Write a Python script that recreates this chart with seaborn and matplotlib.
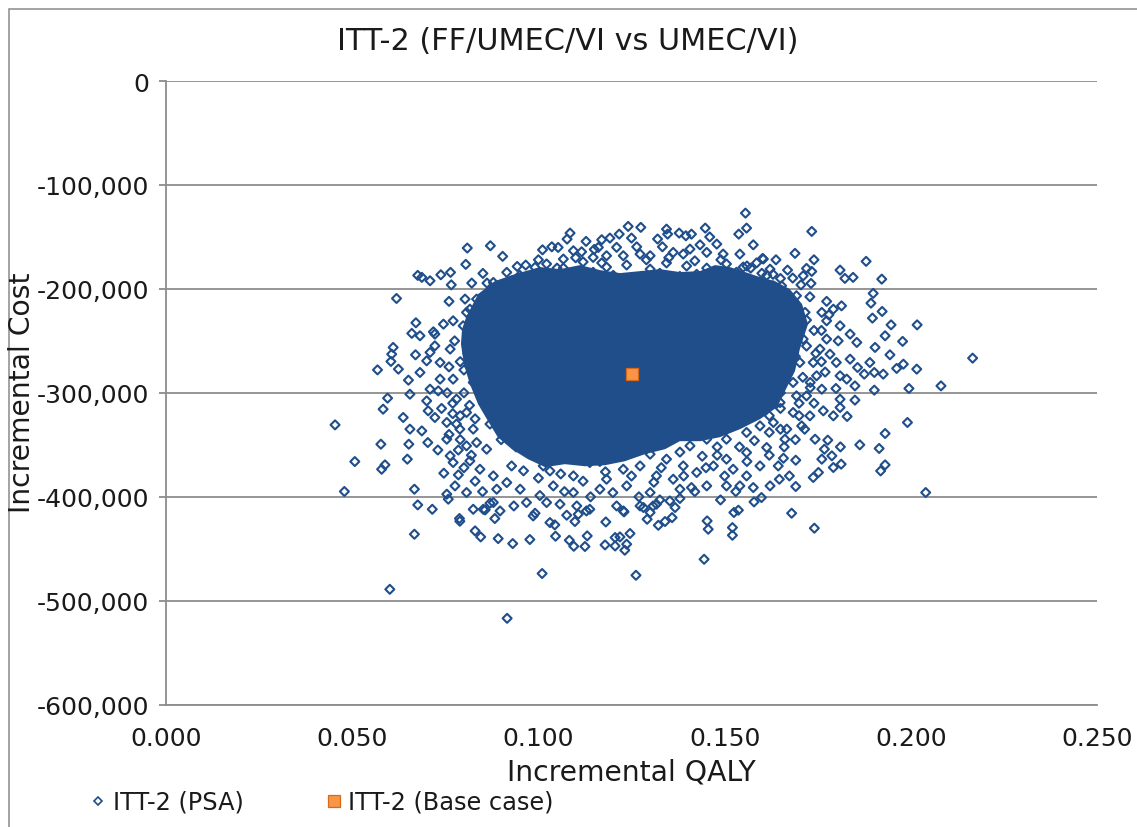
import numpy as np
import pandas as pd
import matplotlib
matplotlib.use("Agg")
import matplotlib.pyplot as plt
import seaborn as sns
from matplotlib.lines import Line2D
from matplotlib.patches import Rectangle
from matplotlib.ticker import FuncFormatter, MultipleLocator

# ---------------------------------------------------------------
# PSA simulations: incremental QALY and incremental cost (thousands)
# ---------------------------------------------------------------
psa_qaly = [
    # upper-left of the cloud
    0.0809, 0.0871, 0.0805, 0.0676, 0.0687, 0.0709, 0.0738, 0.0764, 0.0766, 0.0851,
    0.0619, 0.0760, 0.0671, 0.0660, 0.0904, 0.0943, 0.0966, 0.1011, 0.0821, 0.0862,
    0.0803, 0.0718, 0.0745, 0.0771, 0.0834, 0.0879, 0.0915, 0.0991,
    0.0816, 0.0861, 0.0888, 0.0933, 0.0959, 0.0995, 0.0951, 0.0915, 0.0843, 0.0798,
    0.1022, 0.0807,
    # upper-centre
    0.1556, 0.1559, 0.1538, 0.1577, 0.1448, 0.1275, 0.1241, 0.1344, 0.1347, 0.1378,
    0.1411, 0.1396, 0.1217, 0.1085, 0.1077, 0.1128, 0.1170, 0.1192, 0.1036, 0.1053,
    0.1116, 0.1161, 0.1250, 0.1264, 0.1333, 0.1434, 0.1479, 0.1362, 0.1389, 0.1407,
    0.1452, 0.1496, 0.1541, 0.1602, 0.1228, 0.1273, 0.1300, 0.1067, 0.1094, 0.1147,
    0.1183,
    0.1022, 0.1067, 0.1120, 0.1183, 0.1237, 0.1300, 0.1344, 0.1398, 0.1452, 0.1505,
    0.1550, 0.1586,
    0.1040, 0.1094, 0.1147, 0.1201, 0.1264, 0.1326, 0.1380, 0.1425, 0.1470, 0.1532,
    0.1613,
    0.0900, 0.0980, 0.1050, 0.0870, 0.0930, 0.1600, 0.1650, 0.1560, 0.1630,
    0.1000, 0.1100, 0.1170, 0.1290, 0.1350, 0.1420, 0.1490, 0.1570, 0.1630, 0.1210,
    0.1320, 0.1460, 0.1150, 0.0950,
    # upper-right
    0.1734, 0.1689, 0.1638, 0.1604, 0.1740, 0.1669, 0.1720, 0.1734, 0.1683, 0.1711,
    0.1732, 0.1705, 0.1810, 0.1823, 0.1845, 0.1880, 0.1922, 0.1899, 0.1893, 0.1923,
    0.1897, 0.1947, 0.2017, 0.1729, 0.1774, 0.1814, 0.1792, 0.1761, 0.1716, 0.1684,
    0.1653, 0.1622, 0.1774, 0.1810,
    0.1613, 0.1649, 0.1631, 0.1675, 0.1613, 0.1693, 0.1658,
    # left side
    0.0454, 0.0507, 0.0479, 0.0568, 0.0595, 0.0583, 0.0577, 0.0579, 0.0588, 0.0667,
    0.0676, 0.0715, 0.0648, 0.0652, 0.0637, 0.0655, 0.0687, 0.0703, 0.0655, 0.0651,
    0.0670, 0.0606, 0.0604, 0.0624, 0.0610, 0.0746, 0.0785, 0.0788, 0.0825, 0.0852,
    0.0879, 0.0776, 0.0807, 0.0754, 0.0700, 0.0704, 0.0722, 0.0754, 0.0754, 0.0709,
    0.0682, 0.0700, 0.0722, 0.0722, 0.0915, 0.0928, 0.0897, 0.0986, 0.0816, 0.0771,
    0.0807, 0.0763, 0.0731,
    0.0682, 0.0709, 0.0736, 0.0763, 0.0771, 0.0736, 0.0780, 0.0807, 0.0789, 0.0825,
    0.0843, 0.0879, 0.0888, 0.0951, 0.0968, 0.1004, 0.0861, 0.0834,
    0.0810, 0.0800, 0.0825, 0.0800, 0.0815, 0.0790, 0.0830, 0.0790, 0.0820, 0.0760,
    0.0770, 0.0755, 0.0790, 0.0775, 0.0810, 0.0840, 0.0830,
    0.0770, 0.0780, 0.0760, 0.0740, 0.0785, 0.0800, 0.0830, 0.0850, 0.0730,
    # lower-centre
    0.1022, 0.1058, 0.1103, 0.1138, 0.1228, 0.1273, 0.1317, 0.1411, 0.1452, 0.1541,
    0.1577, 0.1613, 0.1559, 0.1505, 0.1389, 0.1317, 0.1183, 0.1094, 0.1031, 0.1237,
    0.1049, 0.1138, 0.1228, 0.1273, 0.1344, 0.1362, 0.1425, 0.1470, 0.1523, 0.1559,
    0.1595, 0.1452, 0.1505, 0.1559, 0.1595, 0.1407, 0.1094, 0.1165, 0.1300, 0.1380,
    0.1505, 0.1040, 0.1112, 0.1013,
    0.1480, 0.1540, 0.1580, 0.1620, 0.1620, 0.1650, 0.1440, 0.1380, 0.1300, 0.1200,
    0.1165, 0.1080, 0.0990, 0.0940, 0.0900, 0.0870,
    0.1060, 0.1120, 0.1180, 0.1250, 0.1310, 0.1390, 0.1450, 0.1500, 0.1560, 0.1200,
    0.1140, 0.1270, 0.1330, 0.1000, 0.0960, 0.1070, 0.1420, 0.1480, 0.1620, 0.1530,
    # right side
    0.2166, 0.2081, 0.2016, 0.1995, 0.1980, 0.1978, 0.1931, 0.1944, 0.1902, 0.1991,
    0.1931, 0.1915, 0.1931, 0.1919, 0.2040, 0.1863, 0.1811, 0.1850, 0.1810, 0.1829,
    0.1792, 0.1765, 0.1777, 0.1743, 0.1768, 0.1761, 0.1788, 0.1813, 0.1792, 0.1752,
    0.1738, 0.1691, 0.1658, 0.1644, 0.1674, 0.1647, 0.1691, 0.1622, 0.1902, 0.1875,
    0.1926, 0.1962, 0.1904, 0.1890, 0.1857, 0.1837, 0.1850, 0.1799, 0.1810, 0.1828,
    0.1761, 0.1747, 0.1729, 0.1707, 0.1810, 0.1800, 0.1783, 0.1805, 0.1837, 0.1855,
    0.1774, 0.1662,
    0.1622, 0.1667, 0.1702, 0.1649, 0.1684, 0.1720, 0.1649, 0.1684, 0.1631, 0.1667,
    0.1738, 0.1756, 0.1711, 0.1693,
    0.1700, 0.1720, 0.1740, 0.1710, 0.1730, 0.1760, 0.1700, 0.1740, 0.1715, 0.1690,
    0.1690, 0.1720, 0.1650, 0.1690,
    0.1745, 0.1760, 0.1730, 0.1700, 0.1650, 0.1770, 0.1780, 0.1660,
    # bottom tail
    0.0916, 0.1010, 0.1262, 0.0789, 0.0830, 0.0845, 0.0892, 0.0931, 0.0977, 0.1046,
    0.1083, 0.1095, 0.1125, 0.1131, 0.1179, 0.1206, 0.1206, 0.1219, 0.1232, 0.1237,
    0.1246, 0.1181, 0.1031, 0.1044, 0.1076, 0.1098, 0.0991, 0.0934, 0.0883, 0.0870,
    0.0857, 0.0758, 0.1230, 0.1292, 0.1300, 0.1282, 0.1129, 0.1107, 0.1210,
    0.1445, 0.1741, 0.1680, 0.1453, 0.1456, 0.1521, 0.1521, 0.1525, 0.1537, 0.1489,
    0.1579, 0.1599, 0.1322, 0.1340, 0.1359, 0.1367, 0.1353, 0.1380, 0.1326, 0.1308,
    0.0601, 0.0667,
]

psa_cost_k = [
    -160.7, -158.5, -176.4, -187.0, -188.9, -192.2, -186.4, -184.1, -196.1, -185.1,
    -209.2, -212.0, -232.6, -242.8, -168.7, -178.4, -177.1, -162.4, -194.4, -194.4,
    -209.8, -241.3, -233.9, -230.7, -209.8, -193.8, -184.1, -179.3,
    -219.5, -216.3, -229.1, -206.6, -200.2, -193.8, -222.6, -235.5, -238.7, -235.5,
    -184.1, -222.6,
    -127.1, -141.5, -147.3, -157.6, -141.5, -140.8, -139.9, -142.5, -147.3, -146.3,
    -147.3, -148.9, -147.3, -146.3, -152.1, -154.3, -152.7, -151.1, -159.5, -160.1,
    -164.3, -160.1, -151.1, -159.5, -159.5, -157.6, -156.9, -164.9, -166.5, -161.7,
    -164.9, -166.5, -166.5, -170.7, -168.1, -166.5, -168.1, -171.3, -163.3, -169.7,
    -168.1,
    -176.0, -180.0, -174.0, -179.0, -177.0, -181.0, -175.0, -178.0, -180.0, -176.0,
    -179.0, -175.0,
    -186.0, -189.0, -184.0, -187.0, -190.0, -185.0, -188.0, -186.0, -189.0, -184.0,
    -187.0,
    -200.0, -190.0, -180.0, -205.0, -192.0, -185.0, -190.0, -178.0, -197.0,
    -172.0, -170.0, -175.0, -172.0, -170.0, -173.0, -172.0, -180.0, -186.0, -160.0,
    -152.0, -150.0, -162.0, -187.0,
    -144.7, -165.8, -172.0, -171.3, -172.0, -181.9, -180.3, -183.2, -189.6, -187.4,
    -194.7, -196.1, -181.9, -189.9, -188.9, -173.5, -190.6, -204.3, -213.7, -221.7,
    -228.1, -234.6, -234.6, -207.6, -212.0, -216.3, -219.5, -222.6, -222.6, -216.3,
    -197.0, -181.0, -230.7, -235.5,
    -206.6, -213.0, -225.9, -232.3, -235.5, -206.6, -203.4,
    -330.8, -366.1, -394.9, -277.9, -305.1, -315.7, -349.4, -373.5, -369.3, -392.7,
    -407.8, -412.0, -363.8, -349.4, -323.7, -334.9, -336.6, -347.8, -301.3, -287.8,
    -263.4, -262.8, -269.8, -277.2, -256.3, -377.3, -378.9, -420.9, -412.0, -412.0,
    -405.5, -389.5, -395.9, -397.5, -307.7, -317.3, -323.7, -328.5, -344.6, -296.5,
    -280.4, -269.2, -254.8, -243.5, -386.3, -370.3, -413.6, -418.4, -365.5, -367.0,
    -351.0, -360.6, -298.1,
    -245.1, -261.1, -270.8, -257.9, -286.8, -286.8, -306.1, -318.9, -334.9, -334.9,
    -373.5, -379.9, -392.7, -392.7, -405.5, -398.8, -354.2, -347.8,
    -262.0, -278.0, -290.0, -300.0, -312.0, -322.0, -325.0, -345.0, -360.0, -340.0,
    -320.0, -300.0, -270.0, -250.0, -248.0, -250.0, -228.0,
    -310.0, -330.0, -275.0, -315.0, -355.0, -372.0, -385.0, -395.0, -355.0,
    -405.5, -407.1, -408.8, -412.0, -413.6, -408.8, -407.1, -391.1, -389.5, -389.5,
    -391.1, -352.6, -357.4, -363.8, -370.3, -379.9, -383.1, -379.9, -375.1, -389.5,
    -363.8, -367.0, -373.5, -370.3, -363.8, -383.1, -376.6, -370.3, -373.5, -379.9,
    -370.3, -344.6, -344.6, -338.1, -331.8, -351.0, -395.9, -392.7, -395.9, -392.7,
    -389.5, -389.5, -360.6, -370.3,
    -352.0, -352.0, -346.0, -338.0, -322.0, -315.0, -361.0, -357.0, -359.0, -361.0,
    -366.0, -362.0, -358.0, -352.0, -345.0, -330.0,
    -378.0, -385.0, -376.0, -380.0, -386.0, -380.0, -372.0, -380.0, -366.0, -396.0,
    -400.0, -400.0, -372.0, -382.0, -375.0, -395.0, -395.0, -360.0, -360.0, -395.0,
    -266.6, -293.3, -277.2, -295.8, -272.4, -250.5, -245.1, -263.4, -297.4, -328.5,
    -339.1, -353.5, -369.3, -375.1, -395.9, -350.0, -352.0, -307.0, -306.1, -322.7,
    -322.1, -317.3, -345.5, -344.6, -354.2, -363.8, -360.6, -368.6, -371.8, -376.6,
    -381.4, -364.8, -362.9, -370.3, -379.9, -383.1, -390.1, -389.5, -280.4, -282.0,
    -282.0, -276.5, -256.3, -270.8, -275.6, -267.6, -293.3, -295.8, -283.6, -286.8,
    -296.5, -283.6, -322.1, -331.8, -314.1, -270.8, -262.8, -250.0, -243.5, -251.5,
    -248.3, -344.6,
    -248.3, -257.9, -270.8, -280.4, -290.0, -302.9, -309.3, -318.9, -328.5, -334.9,
    -270.8, -257.9, -248.3, -302.9,
    -240.0, -255.0, -240.0, -285.0, -295.0, -270.0, -310.0, -310.0, -335.0, -345.0,
    -225.0, -230.0, -300.0, -265.0,
    -262.0, -240.0, -290.0, -322.0, -335.0, -280.0, -225.0, -352.0,
    -516.9, -473.8, -475.5, -423.5, -432.8, -438.6, -440.2, -445.0, -441.1, -437.9,
    -441.8, -447.6, -447.8, -437.6, -446.3, -447.3, -439.2, -438.6, -451.4, -445.6,
    -435.3, -424.2, -424.8, -427.0, -417.7, -423.8, -415.8, -408.8, -420.9, -406.2,
    -412.6, -402.3, -414.5, -421.6, -415.1, -410.3, -413.6, -416.8, -408.8,
    -460.1, -430.2, -415.8, -423.2, -431.2, -429.6, -437.0, -415.1, -412.9, -403.0,
    -404.9, -400.7, -427.4, -423.8, -420.0, -410.3, -404.0, -401.6, -403.0, -408.8,
    -489.0, -436.0,
]

# Outline of the fully overplotted centre of the cloud
core_qaly = [0.0806, 0.0838, 0.0883, 0.0937, 0.1004, 0.1058, 0.1112, 0.1165, 0.1219,
             0.1273, 0.1326, 0.1380, 0.1434, 0.1474, 0.1514, 0.1555, 0.1595, 0.1635,
             0.1675, 0.1708, 0.1724, 0.1702, 0.1689, 0.1662, 0.1641, 0.1595, 0.1541,
             0.1487, 0.1434, 0.1380, 0.1340, 0.1286, 0.1232, 0.1179, 0.1125, 0.1071,
             0.1018, 0.0972, 0.0929, 0.0891, 0.0865, 0.0838, 0.0816, 0.0800, 0.0792,
             0.0795]
core_cost_k = [-227.2, -205.0, -192.5, -185.8, -179.0, -181.0, -177.1, -181.9, -184.8,
               -182.9, -181.0, -183.8, -182.9, -177.1, -179.0, -183.8, -188.7, -192.5,
               -200.2, -214.6, -233.9, -258.0, -279.1, -298.4, -313.8, -325.3, -335.0,
               -342.7, -346.5, -346.5, -354.2, -359.0, -365.8, -369.6, -370.6, -368.6,
               -371.5, -363.8, -354.2, -342.7, -327.3, -310.9, -291.6, -272.4, -253.1,
               -238.7]

# Deterministic base case
base_qaly = [0.125]
base_cost = [-282000]

title = "ITT-2 (FF/UMEC/VI vs UMEC/VI)"
x_label = "Incremental QALY"
y_label = "Incremental Cost"
series_labels = ["ITT-2 (PSA)", "ITT-2 (Base case)"]

# ---------------------------------------------------------------
BLUE = "#1F4E8A"
ORANGE = "#F79646"
ORANGE_EDGE = "#D9691A"
GREY = "#8C8C8C"
TEXT = "#1A1A1A"

sns.set_theme(style="white")
plt.rcParams["font.family"] = ["DejaVu Sans"]

W, H = 1137, 828
fig = plt.figure(figsize=(W / 100, H / 100), dpi=100)
fig.patch.set_facecolor("white")
ax = fig.add_axes([166 / W, 1 - 705.7 / H, (1097 - 166) / W, (705.7 - 82) / H])

psa = pd.DataFrame({"qaly": psa_qaly, "cost": np.array(psa_cost_k) * 1000})
base = pd.DataFrame({"qaly": base_qaly, "cost": base_cost})

ax.fill(core_qaly, np.array(core_cost_k) * 1000, color=BLUE, lw=0, zorder=2)
sns.scatterplot(data=psa, x="qaly", y="cost", ax=ax, marker="D", s=21,
                color=BLUE, facecolors="none", edgecolor=BLUE, linewidth=1.5,
                zorder=3, legend=False)
sns.scatterplot(data=base, x="qaly", y="cost", ax=ax, marker="s", s=75,
                color=ORANGE, edgecolor=ORANGE_EDGE, linewidth=0.9,
                zorder=4, legend=False)

ax.set_xlim(0, 0.25)
ax.set_ylim(-600000, 0)
ax.xaxis.set_major_locator(MultipleLocator(0.05))
ax.yaxis.set_major_locator(MultipleLocator(100000))
ax.xaxis.set_major_formatter(FuncFormatter(lambda v, p: f"{v:.3f}"))
ax.yaxis.set_major_formatter(FuncFormatter(lambda v, p: f"{v:,.0f}"))

ax.grid(False)
ax.yaxis.grid(True, color=GREY, lw=1.3, zorder=1)
ax.set_axisbelow(True)
for side in ("top", "right"):
    ax.spines[side].set_visible(False)
for side in ("left", "bottom"):
    ax.spines[side].set_color(GREY)
    ax.spines[side].set_linewidth(1.3)

ax.tick_params(axis="y", which="major", direction="out", length=5, width=1.3,
               color=GREY, labelsize=18, labelcolor=TEXT, pad=7, left=True)
ax.tick_params(axis="x", which="major", length=0, labelsize=18,
               labelcolor=TEXT, pad=15, bottom=True)
ax.set_xlabel("")
ax.set_ylabel("")

fig.text(568 / W, 1 - 42 / H, title, ha="center", va="center",
         fontsize=21.8, color=TEXT)
fig.text(631 / W, 1 - 773 / H, x_label, ha="center", va="center",
         fontsize=20.3, color=TEXT)
fig.text(22 / W, 1 - 393 / H, y_label, ha="center", va="center",
         rotation=90, fontsize=20.3, color=TEXT)

handles = [
    Line2D([], [], ls="none", marker="D", markersize=4.5, mfc="none",
           mec=BLUE, mew=1.2),
    Line2D([], [], ls="none", marker="s", markersize=9, mfc=ORANGE,
           mec=ORANGE_EDGE, mew=0.9),
]
fig.legend(handles, series_labels, loc="center left",
           bbox_to_anchor=(90 / W, 1 - 803 / H), ncol=2, frameon=False,
           fontsize=17.3, handlelength=0.7, handletextpad=0.25,
           columnspacing=3.4, borderpad=0, borderaxespad=0,
           labelcolor=TEXT)

# outer chart frame
fig.patches.append(Rectangle((8.5 / W, -0.05), 1.2, 1 - 10 / H + 0.05,
                             transform=fig.transFigure, fill=False,
                             edgecolor="#8A8A8A", lw=1.1, clip_on=False))

fig.savefig("out.png", dpi=100, facecolor="white")
